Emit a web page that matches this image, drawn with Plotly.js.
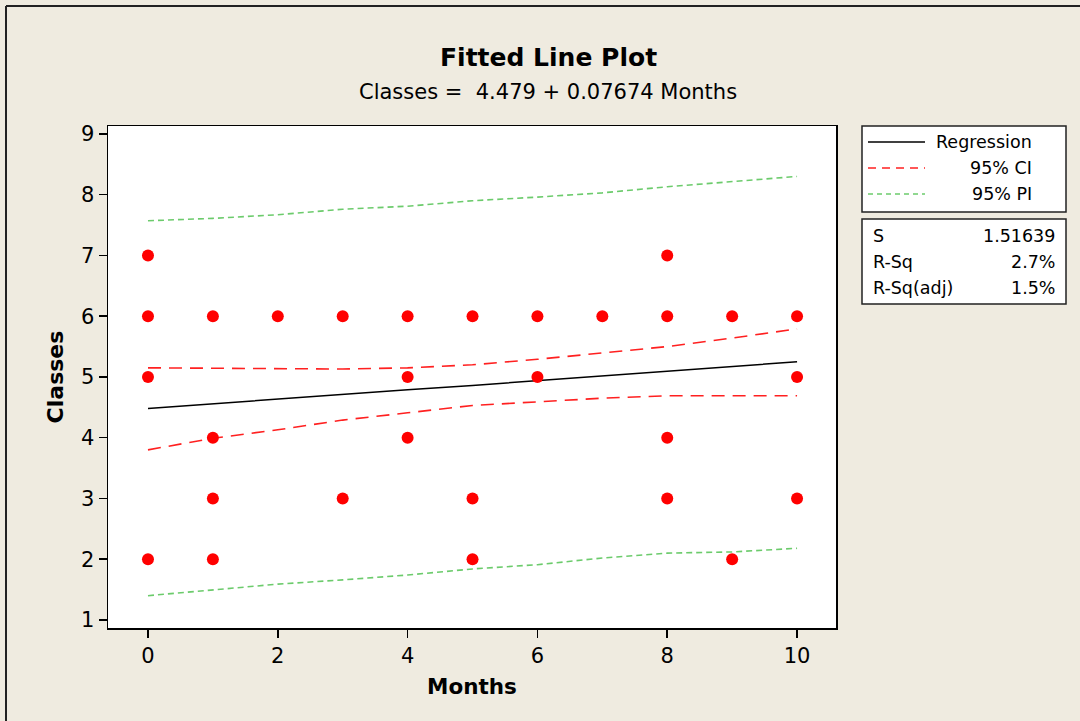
<!DOCTYPE html>
<html>
<head>
<meta charset="utf-8">
<script src="https://cdn.plot.ly/plotly-3.0.1.min.js"></script>
<style>html,body{margin:0;padding:0;background:#EFEBE0;}#chart{width:1080px;height:721px;}</style>
</head>
<body>
<div id="chart"></div>
<script>
// Data points (Months, Classes)
var months  = [0,0,0,0, 1,1,1,1, 2, 3,3, 4,4,4, 5,5,5, 6,6, 7, 8,8,8,8, 9,9, 10,10,10];
var classes = [7,6,5,2, 6,4,3,2, 6, 6,3, 6,5,4, 6,3,2, 6,5, 6, 7,6,4,3, 6,2, 6,5,3];

// Fitted line and bands, read at each month
var gridX   = [0,1,2,3,4,5,6,7,8,9,10];
var fitY    = [4.48,4.56,4.63,4.71,4.79,4.86,4.94,5.02,5.09,5.17,5.25];
var ciUpper = [5.15,5.14,5.13,5.13,5.15,5.20,5.29,5.39,5.50,5.64,5.79];
var ciLower = [3.80,3.99,4.13,4.29,4.41,4.53,4.59,4.65,4.69,4.69,4.69];
var piUpper = [7.57,7.61,7.67,7.76,7.81,7.90,7.96,8.03,8.13,8.21,8.30];
var piLower = [1.40,1.49,1.59,1.66,1.74,1.84,1.91,2.02,2.10,2.12,2.18];

var titleText = "Fitted Line Plot";
var subtitleText = "Classes =  4.479 + 0.07674 Months";
var legendLabels = ["Regression","95% CI","95% PI"];
var statLabels = ["S","R-Sq","R-Sq(adj)"];
var statValues = ["1.51639","2.7%","1.5%"];

var W = 1080, H = 721;
var L = 108, R = 836, T = 126, B = 628;
function px(x){ return (x - L) / (R - L); }
function py(y){ return (B - y) / (B - T); }

var FONT = "DejaVu Sans";
var traces = [
  {x: gridX, y: piUpper, mode:"lines", line:{color:"#6CCB6C", width:1.6, dash:"6px,4px"}, showlegend:false, hoverinfo:"skip"},
  {x: gridX, y: piLower, mode:"lines", line:{color:"#6CCB6C", width:1.6, dash:"6px,4px"}, showlegend:false, hoverinfo:"skip"},
  {x: gridX, y: ciUpper, mode:"lines", line:{color:"#FF2020", width:1.6, dash:"13px,8px"}, showlegend:false, hoverinfo:"skip"},
  {x: gridX, y: ciLower, mode:"lines", line:{color:"#FF2020", width:1.6, dash:"13px,8px"}, showlegend:false, hoverinfo:"skip"},
  {x: gridX, y: fitY, mode:"lines", line:{color:"#000000", width:1.5}, showlegend:false, hoverinfo:"skip"},
  {x: months, y: classes, mode:"markers", marker:{color:"#FF0000", size:12, symbol:"circle"}, showlegend:false}
];

var shapes = [
  {type:"line", xref:"paper", yref:"paper", x0:px(6), x1:px(1080), y0:py(6), y1:py(6), line:{color:"#222", width:2}},
  {type:"line", xref:"paper", yref:"paper", x0:px(6), x1:px(6), y0:py(6), y1:py(721), line:{color:"#222", width:2}},
  {type:"rect", xref:"paper", yref:"paper", x0:px(862), x1:px(1066), y0:py(126), y1:py(212), line:{color:"#222", width:1.5}, fillcolor:"#FFFFFF"},
  {type:"rect", xref:"paper", yref:"paper", x0:px(862), x1:px(1066), y0:py(219), y1:py(304), line:{color:"#222", width:1.5}, fillcolor:"#FFFFFF"},
  {type:"line", xref:"paper", yref:"paper", x0:px(868), x1:px(925), y0:py(142), y1:py(142), line:{color:"#000", width:1.5}},
  {type:"line", xref:"paper", yref:"paper", x0:px(868), x1:px(925), y0:py(168), y1:py(168), line:{color:"#FF2020", width:1.5, dash:"8px,6px"}},
  {type:"line", xref:"paper", yref:"paper", x0:px(868), x1:px(925), y0:py(194), y1:py(194), line:{color:"#6CCB6C", width:1.5, dash:"5px,4px"}}
];

var annotations = [
  {text:"<b>"+titleText+"</b>", xref:"paper", yref:"paper", x:px(548), y:py(58), showarrow:false, xanchor:"center", yanchor:"middle", font:{family:FONT, size:25, color:"#000"}},
  {text:subtitleText, xref:"paper", yref:"paper", x:px(548), y:py(92), showarrow:false, xanchor:"center", yanchor:"middle", font:{family:FONT, size:21, color:"#000"}}
];
var legendY = [142,168,194];
for (var i=0;i<legendLabels.length;i++){
  annotations.push({text:legendLabels[i], xref:"paper", yref:"paper", x:px(1034), y:py(legendY[i]), showarrow:false, xanchor:"right", yanchor:"middle", font:{family:FONT, size:17.5, color:"#000"}});
}
var statY = [236,262,288];
for (var j=0;j<statLabels.length;j++){
  annotations.push({text:statLabels[j], xref:"paper", yref:"paper", x:px(871), y:py(statY[j]), showarrow:false, xanchor:"left", yanchor:"middle", font:{family:FONT, size:17.5, color:"#000"}});
  annotations.push({text:statValues[j], xref:"paper", yref:"paper", x:px(1057), y:py(statY[j]), showarrow:false, xanchor:"right", yanchor:"middle", font:{family:FONT, size:17.5, color:"#000"}});
}

var layout = {
  width: W, height: H,
  margin: {l:L, r:W-R, t:T, b:H-B},
  paper_bgcolor: "#EFEBE0",
  plot_bgcolor: "#FFFFFF",
  font: {family: FONT, color:"#000"},
  showlegend: false,
  xaxis: {
    range: [-0.616, 10.6], tickvals:[0,2,4,6,8,10], ticks:"outside", ticklen:8, tickwidth:1.5, tickcolor:"#000",
    showgrid:false, zeroline:false, showline:true, mirror:true, linecolor:"#000", linewidth:1.5,
    tickfont:{family:FONT, size:21, color:"#000"},
    title:{text:"<b>Months</b>", font:{family:FONT, size:21.5, color:"#000"}, standoff:12}
  },
  yaxis: {
    range: [0.868, 9.13], tickvals:[1,2,3,4,5,6,7,8,9], ticks:"outside", ticklen:8, tickwidth:1.5, tickcolor:"#000",
    showgrid:false, zeroline:false, showline:true, mirror:true, linecolor:"#000", linewidth:1.5,
    tickfont:{family:FONT, size:21, color:"#000"},
    title:{text:"<b>Classes</b>", font:{family:FONT, size:22, color:"#000"}, standoff:11}
  },
  shapes: shapes,
  annotations: annotations
};

Plotly.newPlot("chart", traces, layout, {displayModeBar:false, staticPlot:true});
</script>
</body>
</html>
